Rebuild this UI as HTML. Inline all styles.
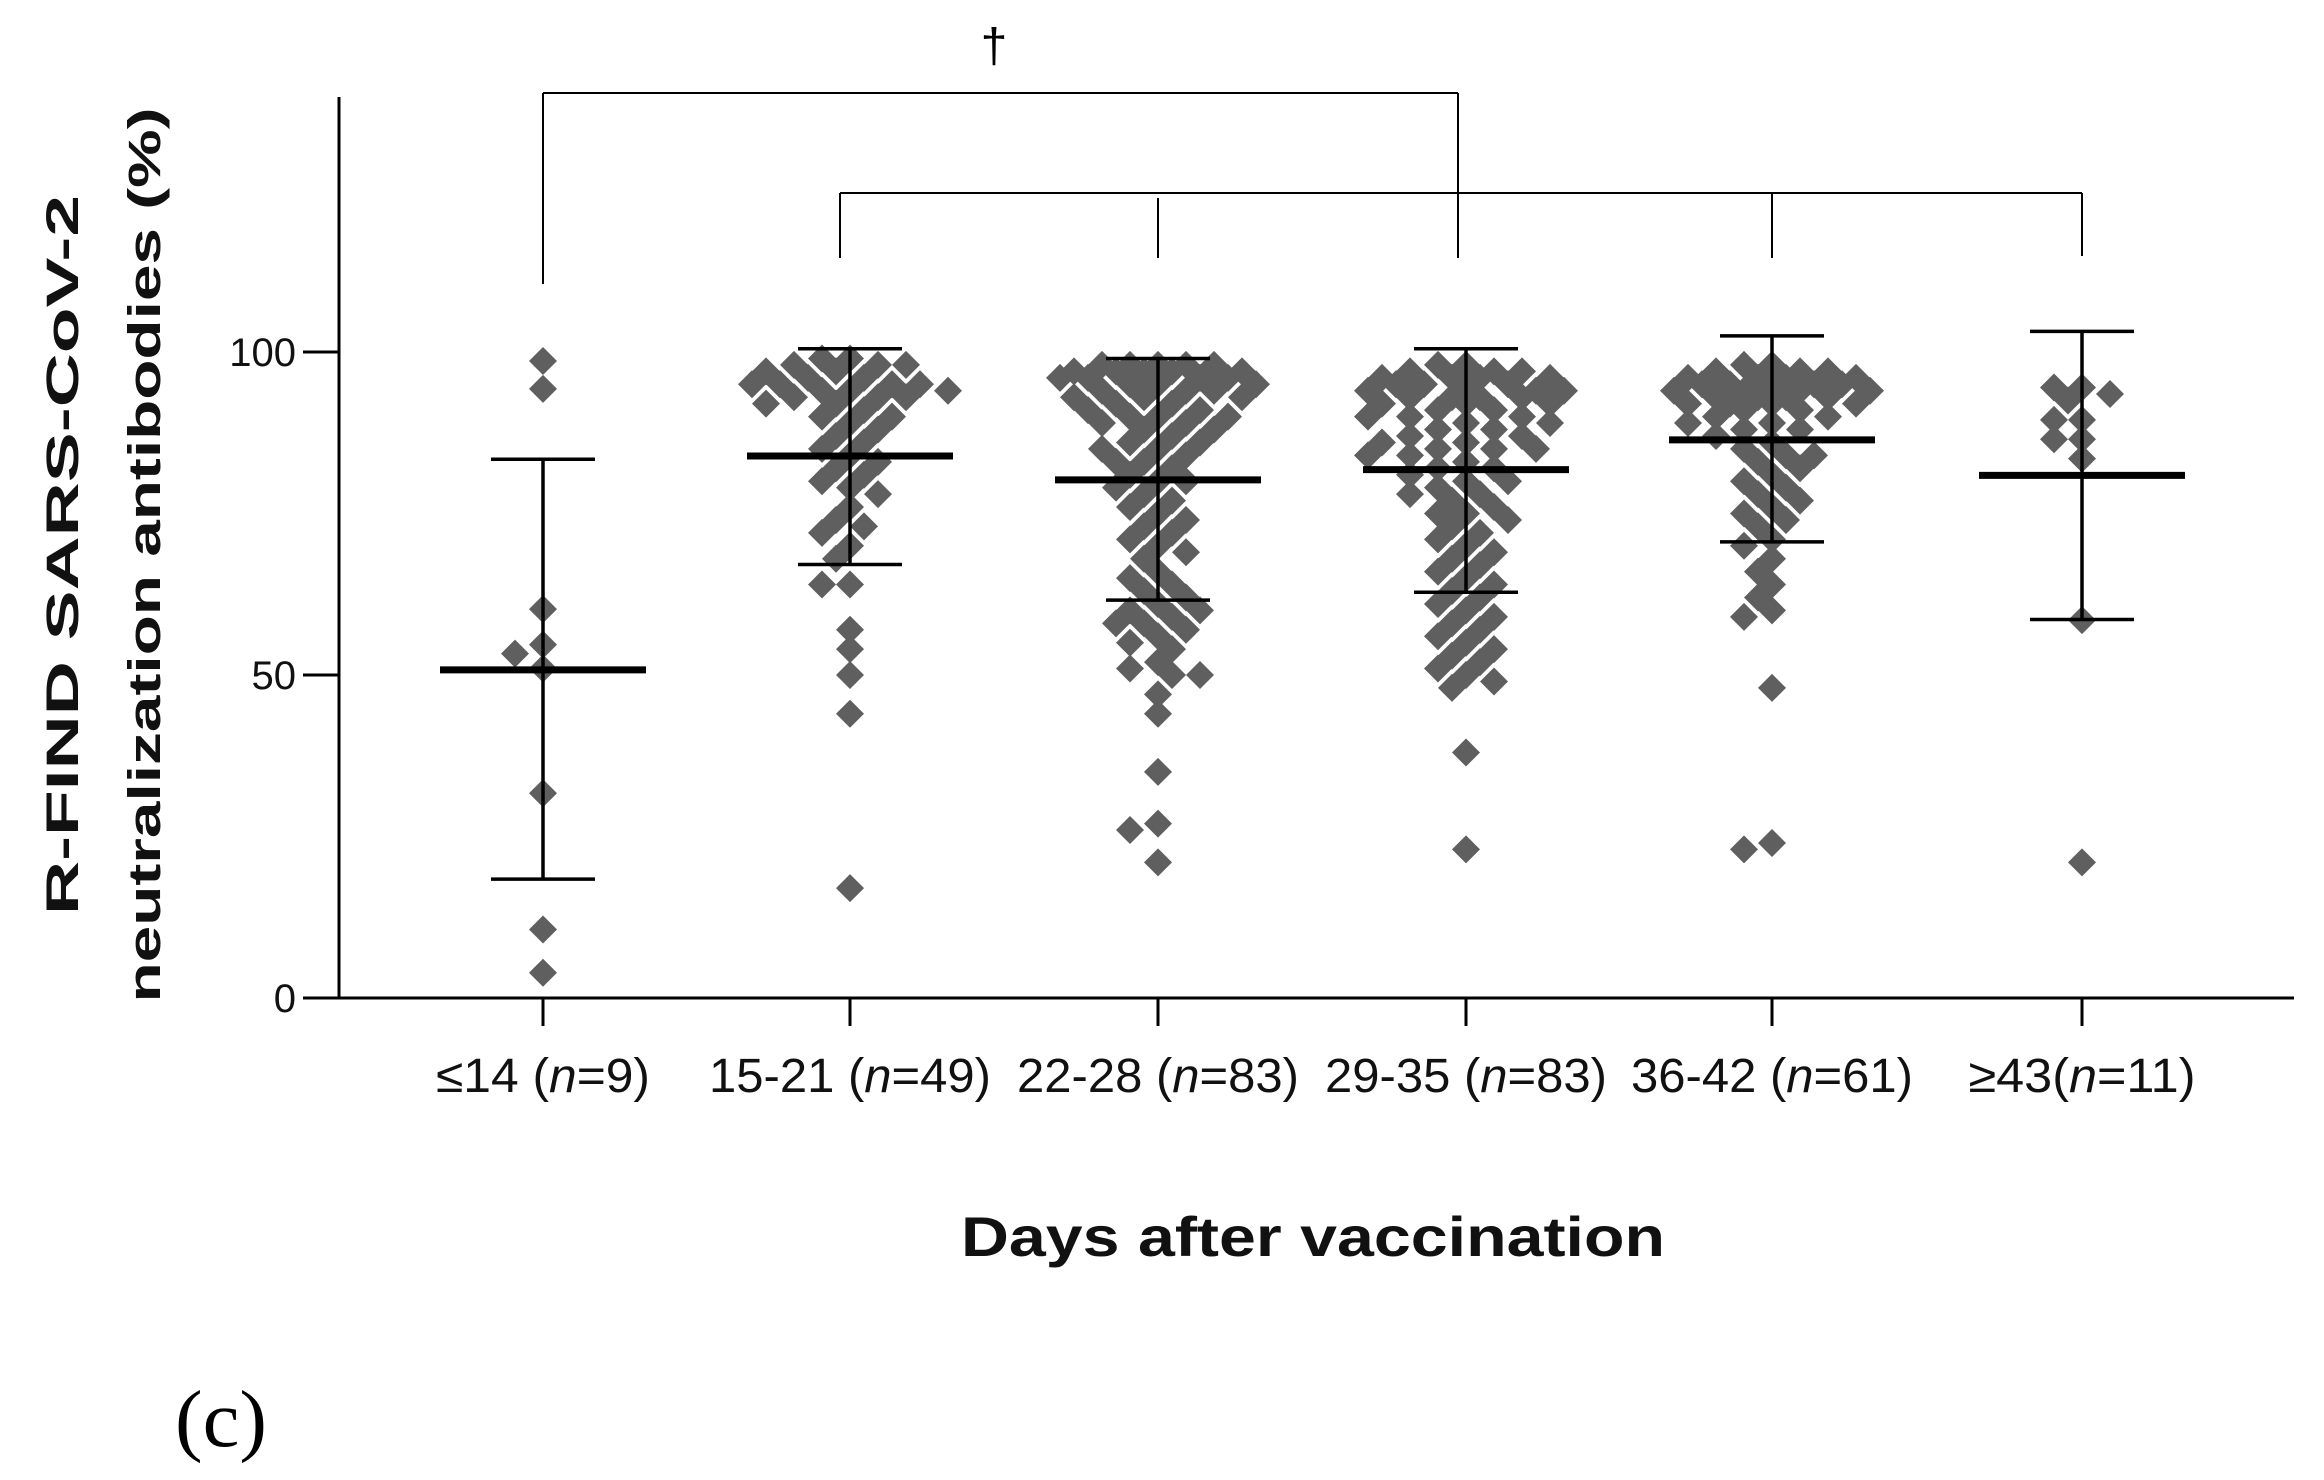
<!DOCTYPE html>
<html><head><meta charset="utf-8"><style>
html,body{margin:0;padding:0;background:#fff;}
svg{display:block;}
</style></head><body>
<svg id="chart" width="2324" height="1480" viewBox="0 0 2324 1480" xmlns="http://www.w3.org/2000/svg">
<g id="axes"></g>
<g id="brackets"></g>
<g id="points"></g>
<g id="bars"></g>
<g id="labels"></g>
</svg>
<script>
const categories = ["≤14", "15-21", "22-28", "29-35", "36-42", "≥43"];
const counts = [9, 49, 83, 83, 61, 11];
const means = [50.8, 83.9, 80.2, 81.8, 86.4, 80.9];
const sdUpper = [83.4, 100.5, 99.0, 100.5, 102.5, 103.2];
const sdLower = [18.4, 67.1, 61.6, 62.8, 70.6, 58.6];
const yTicks = [0, 50, 100];
const g1 = [98.6, 94.3, 60.2, 54.7, 53.3, 51, 31.7, 10.6, 3.9];
const g2 = [99,99,98,98,98,97,97,96,96,95,95,95,95,94,94,94,93,93,93,92,92,91,90,90,89,88,87,86,85,84,83,82,81,80,79,78,76,74,73,72,70,68,64,64,57,54,50,44,17];
const g3 = [98,98,98,98,98,97,97,97,97,97,96,96,96,96,95,95,95,94,94,94,93,93,93,92,92,91,91,90,90,90,89,89,88,88,87,86,86,85,85,84,83,83,82,81,80,80,79,78,77,76,75,74,73,72,71,70,69,68,66,65,64,63,62,61,60,60,59,58,57,56,55,54,52,51,50,50,47,44,35,27,26,21,58];
const g4 = [98,98,97,97,97,96,96,96,96,95,95,95,95,94,94,94,93,93,93,92,92,92,91,91,90,90,89,89,88,88,87,87,86,86,85,85,84,84,83,82,82,81,80,80,79,78,78,77,76,75,75,74,73,72,71,70,69,68,67,66,65,64,63,62,61,60,59,58,57,56,55,54,53,52,51,50,49,48,38,23,85,90,93];
const g5 = [98,98,97,97,97,96,96,96,96,95,95,95,95,94,94,94,94,93,93,93,93,92,92,92,91,91,90,90,89,89,88,87,86,85,84,83,82,81,80,79,78,77,76,75,74,73,71,70,68,66,64,62,60,59,48,24,23,95,92,88,84];
const g6 = [94.5, 94.5, 92.5, 93.5, 89.5, 89.5, 86.5, 86.5, 83.5, 58.5, 21];
const groups = [g1, g2, g3, g4, g5, g6];

const NS = "http://www.w3.org/2000/svg";
const X0 = 339, Y0 = 998, Y100 = 352;
const catX = [543, 850, 1158, 1466, 1772, 2082];
function yScale(v){ return Y0 + (Y100 - Y0) * v / 100; }
function xScale(i){ return catX[i]; }
function mk(parent, tag, attrs){
  const e = document.createElementNS(NS, tag);
  for (const k in attrs) e.setAttribute(k, attrs[k]);
  parent.appendChild(e);
  return e;
}
const axes = document.getElementById('axes');
const brackets = document.getElementById('brackets');
const pts = document.getElementById('points');
const bars = document.getElementById('bars');
const labels = document.getElementById('labels');

let e;
e = mk(axes, 'line', {x1:X0, y1:97, x2:X0, y2:Y0, stroke:'#000', 'stroke-width':3});


e = mk(axes, 'line', {x1:303, y1:Y0, x2:2294, y2:Y0, stroke:'#000', 'stroke-width':3});


yTicks.forEach(t => {
  const y = yScale(t);
  const l = mk(axes, 'line', {x1:303, y1:y, x2:X0, y2:y, stroke:'#000', 'stroke-width':3});
  
  
  const tx = mk(axes, 'text', {x:296, y:y+14, 'text-anchor':'end', 'font-family':'Liberation Sans, sans-serif', 'font-size':40, fill:'#111'});
  tx.textContent = String(t);
  
  
});
const labelW = [214, 282, 282, 282, 282, 227];
categories.forEach((c, i) => {
  const x = xScale(i);
  const l = mk(axes, 'line', {x1:x, y1:Y0, x2:x, y2:1026, stroke:'#000', 'stroke-width':3});
  
  
  const tx = mk(axes, 'text', {x:x, y:1092, 'text-anchor':'middle', 'font-family':'Liberation Sans, sans-serif', 'font-size':48, fill:'#111', textLength:labelW[i], lengthAdjust:'spacingAndGlyphs'});
  const sep = (i === 5) ? '(' : ' (';
  tx.innerHTML = c + sep + '<tspan font-style="italic">n</tspan>=' + counts[i] + ')';
  
  
});

function bline(x1,y1,x2,y2,name){
  const l = mk(brackets, 'line', {x1:x1,y1:y1,x2:x2,y2:y2,stroke:'#000','stroke-width':2});
  
  
}
bline(xScale(0), 93, 1458, 93, 'bracket-top-bar');
bline(xScale(0), 93, xScale(0), 284, 'bracket-leg');
bline(1458, 93, 1458, 258, 'bracket-leg');
bline(840, 193, xScale(5), 193, 'bracket-second-bar');
bline(840, 193, 840, 258, 'bracket-leg');
bline(xScale(2), 198, xScale(2), 258, 'bracket-leg');
bline(xScale(4), 193, xScale(4), 258, 'bracket-leg');
bline(xScale(5), 193, xScale(5), 256, 'bracket-leg');
e = mk(brackets, 'text', {x:994, y:62, 'text-anchor':'middle', 'font-family':'Liberation Sans, sans-serif', 'font-size':48, fill:'#000'});
e.textContent = '†';



const H = 14, STEP = 14, MIND = 18, MAXOFF = 100;
groups.forEach((vals, gi) => {
  const cx = xScale(gi);
  const placed = [];
  const sorted = vals.map(v => v).sort((a,b) => b - a);
  sorted.forEach(v => {
    const y = yScale(v);
    let chosen = null, best = -1, bestO = 0;
    for (let k = 0; k * STEP <= MAXOFF && chosen === null; k++) {
      const cands = k === 0 ? [0] : [-k*STEP, k*STEP];
      for (const o of cands) {
        const md = placed.reduce((m, p) => Math.min(m, Math.hypot(p[0]-o, p[1]-y)), 1e9);
        if (md >= MIND) { chosen = o; break; }
        if (md > best) { best = md; bestO = o; }
      }
    }
    if (chosen === null) chosen = bestO;
    placed.push([chosen, y]);
    const x = cx + chosen;
    const d = mk(pts, 'polygon', {points:`${x},${y-H} ${x+H},${y} ${x},${y+H} ${x-H},${y}`, fill:'#5f5f5f'});
    
    
  });
});

categories.forEach((c, i) => {
  const x = xScale(i);
  const yt = yScale(sdUpper[i]), yb = yScale(sdLower[i]), ym = yScale(means[i]);
  let l = mk(bars, 'line', {x1:x, y1:yt, x2:x, y2:yb, stroke:'#000', 'stroke-width':3.5});
  
  
  l = mk(bars, 'line', {x1:x-52, y1:yt, x2:x+52, y2:yt, stroke:'#000', 'stroke-width':3.5});
  
  
  l = mk(bars, 'line', {x1:x-52, y1:yb, x2:x+52, y2:yb, stroke:'#000', 'stroke-width':3.5});
  
  
  l = mk(bars, 'line', {x1:x-103, y1:ym, x2:x+103, y2:ym, stroke:'#000', 'stroke-width':7});
  
  
});

e = mk(labels, 'text', {x:0, y:0, transform:'translate(78,555) rotate(-90)', 'text-anchor':'middle', 'font-family':'Liberation Sans, sans-serif', 'font-weight':'bold', 'font-size':45, fill:'#111', textLength:720, lengthAdjust:'spacingAndGlyphs'});
e.textContent = 'R-FIND SARS-CoV-2';


e = mk(labels, 'text', {x:0, y:0, transform:'translate(160,555) rotate(-90)', 'text-anchor':'middle', 'font-family':'Liberation Sans, sans-serif', 'font-weight':'bold', 'font-size':45, fill:'#111', textLength:895, lengthAdjust:'spacingAndGlyphs'});
e.textContent = 'neutralization antibodies (%)';


e = mk(labels, 'text', {x:1313, y:1256, 'text-anchor':'middle', 'font-family':'Liberation Sans, sans-serif', 'font-weight':'bold', 'font-size':56, fill:'#111', textLength:704, lengthAdjust:'spacingAndGlyphs'});
e.textContent = 'Days after vaccination';


e = mk(labels, 'text', {x:175, y:1446, 'font-family':'Liberation Serif, serif', 'font-size':80, fill:'#000', textLength:92, lengthAdjust:'spacingAndGlyphs'});
e.textContent = '(c)';


</script>
</body></html>
